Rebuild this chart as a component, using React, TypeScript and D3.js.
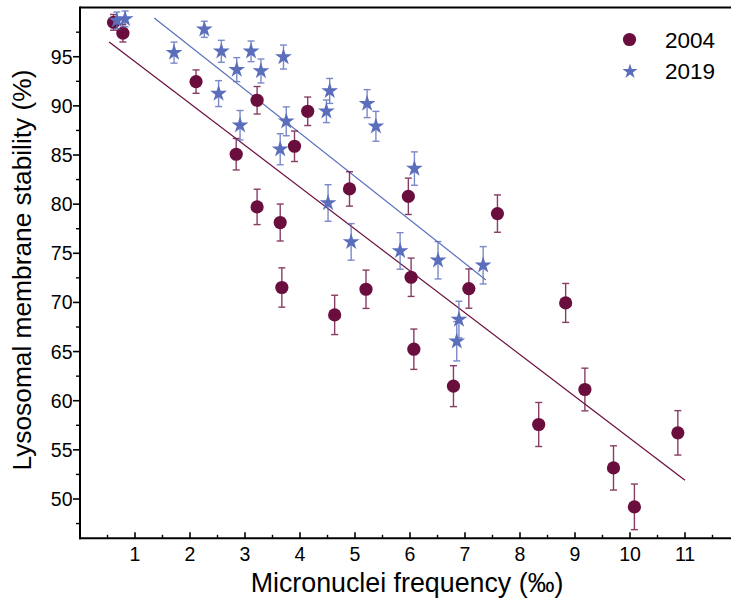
import React from "react";
import * as d3 from "d3";

// ---- data ----
const x2004 = [0.61, 0.78, 2.11, 3.22, 2.84, 4.14, 3.90, 4.90, 5.97, 3.22, 3.64, 7.59, 3.67, 4.63, 5.20, 6.02, 7.07, 6.07, 8.83, 6.79, 8.34, 9.18, 9.70, 10.08, 10.87];
const y2004 = [98.5, 97.4, 92.47, 90.57, 85.08, 89.45, 85.89, 81.55, 80.8, 79.72, 78.13, 79.04, 71.52, 68.73, 71.34, 72.56, 71.41, 65.24, 69.95, 61.48, 57.58, 61.14, 53.16, 49.2, 56.73];
const e2004 = [0.8, 0.9, 1.19, 1.4, 1.6, 1.45, 1.55, 1.75, 1.85, 1.8, 1.88, 1.9, 2.0, 2.0, 1.95, 1.95, 2.0, 2.05, 1.98, 2.08, 2.24, 2.17, 2.25, 2.32, 2.26];

const x2019 = [0.67, 0.82, 2.26, 1.71, 2.57, 3.11, 3.70, 2.85, 3.29, 2.52, 4.54, 4.48, 5.22, 5.38, 2.91, 3.75, 3.64, 6.08, 4.51, 4.93, 5.82, 6.51, 7.33, 6.89, 6.85];
const y2019 = [98.7, 98.85, 97.79, 95.42, 95.55, 95.55, 94.97, 93.69, 93.55, 91.25, 91.52, 89.45, 90.23, 87.92, 88.03, 88.43, 85.59, 83.62, 80.12, 76.16, 75.24, 74.29, 73.78, 68.26, 66.05];
const e2019 = [0.85, 0.8, 0.82, 1.07, 1.12, 1.05, 1.22, 1.22, 1.22, 1.32, 1.27, 1.15, 1.42, 1.52, 1.5, 1.47, 1.58, 1.7, 1.86, 1.86, 1.86, 1.9, 1.9, 1.86, 2.0];

// linear fits (start x, end x, intercept at 0, slope)
const fit2004 = { x0: 0.53, x1: 11.0, a: 98.76, b: -4.26 };
const fit2019 = { x0: 1.35, x1: 7.38, a: 104.91, b: -4.42 };

const xTicks = [1, 2, 3, 4, 5, 6, 7, 8, 9, 10, 11];
const yTicks = [50, 55, 60, 65, 70, 75, 80, 85, 90, 95];
const seriesNames = ["2004", "2019"];

const C2004 = "#6a0e3e";
const C2019 = "#5a6ebb";
const FONT = "'Liberation Sans', Arial, sans-serif";

export default function App() {
  const W = 731, H = 602;
  const x = d3.scaleLinear().domain([0, 12]).range([80, 740]);
  const y = d3.scaleLinear().domain([46, 100]).range([538.3, 7.6]);
  const left = x(0), bottom = y(46), top = y(100);

  const xMinor = d3.range(0.5, 12, 1);
  const yMinor = d3.range(47.5, 100, 5);

  const star = d3.symbol().type(d3.symbolStar).size(88)();
  const starLegend = d3.symbol().type(d3.symbolStar).size(70)();

  const fitLine = (f: any) =>
    d3.line<number>().x((v) => x(v)).y((v) => y(f.a + f.b * v))([f.x0, f.x1]);

  const errBars = (xs: number[], ys: number[], es: number[], color: string) =>
    xs.map((xv, i) => {
      const cx = x(xv), y1 = y(ys[i] + es[i]), y2 = y(ys[i] - es[i]);
      return (
        <g key={i} stroke={color} strokeWidth={1.4} opacity={0.8}>
          <line x1={cx} x2={cx} y1={y1} y2={y2} />
          <line x1={cx - 3.5} x2={cx + 3.5} y1={y1} y2={y1} />
          <line x1={cx - 3.5} x2={cx + 3.5} y1={y2} y2={y2} />
        </g>
      );
    });

  return (
    <svg width={W} height={H} style={{ position: "absolute", left: 0, top: 0, background: "#fff" }} fontFamily={FONT}>
      <rect width={W} height={H} fill="#fff" />
      {/* fit lines */}
      <path d={fitLine(fit2004) || ""} stroke={C2004} strokeWidth={1.2} fill="none" />
      <path d={fitLine(fit2019) || ""} stroke={C2019} strokeWidth={1.2} fill="none" />

      {/* 2004 */}
      {errBars(x2004, y2004, e2004, C2004)}
      {x2004.map((xv, i) => (
        <circle key={i} cx={x(xv)} cy={y(y2004[i])} r={6.6} fill={C2004} />
      ))}
      {/* 2019 */}
      {errBars(x2019, y2019, e2019, C2019)}
      {x2019.map((xv, i) => (
        <path key={i} d={star || ""} transform={`translate(${x(xv)},${y(y2019[i])})`} fill={C2019} />
      ))}

      {/* axes */}
      <line x1={left} x2={W} y1={top} y2={top} stroke="#000" strokeWidth={2} />
      <line x1={left} x2={left} y1={top - 1} y2={bottom + 1} stroke="#000" strokeWidth={2} />
      <line x1={left - 1} x2={W} y1={bottom} y2={bottom} stroke="#000" strokeWidth={2} />

      {xTicks.map((t) => (
        <g key={t}>
          <line x1={x(t)} x2={x(t)} y1={bottom} y2={bottom - 6} stroke="#000" strokeWidth={1.6} />
          <text x={x(t)} y={561} fontSize={19.5} textAnchor="middle" fill="#000">{t}</text>
        </g>
      ))}
      {xMinor.map((t) => (
        <line key={t} x1={x(t)} x2={x(t)} y1={bottom} y2={bottom - 3.5} stroke="#000" strokeWidth={1.4} />
      ))}
      {yTicks.map((t) => (
        <g key={t}>
          <line x1={left} x2={left - 7} y1={y(t)} y2={y(t)} stroke="#000" strokeWidth={1.6} />
          <text x={72.5} y={y(t) + 7} fontSize={19.5} textAnchor="end" fill="#000">{t}</text>
        </g>
      ))}
      {yMinor.map((t) => (
        <line key={t} x1={left} x2={left - 4} y1={y(t)} y2={y(t)} stroke="#000" strokeWidth={1.4} />
      ))}

      {/* axis titles */}
      <text x={407} y={592} fontSize={26.8} textAnchor="middle" fill="#000">Micronuclei frequency (‰)</text>
      <text transform="translate(31,270) rotate(-90)" fontSize={26.3} textAnchor="middle" fill="#000">
        Lysosomal membrane stability (%)
      </text>

      {/* legend */}
      <circle cx={629.5} cy={39.5} r={6.6} fill={C2004} />
      <text x={665} y={47.5} fontSize={22.5} fill="#000">{seriesNames[0]}</text>
      <path d={starLegend || ""} transform="translate(630,71.5)" fill={C2019} />
      <text x={665} y={79} fontSize={22.5} fill="#000">{seriesNames[1]}</text>
    </svg>
  );
}
